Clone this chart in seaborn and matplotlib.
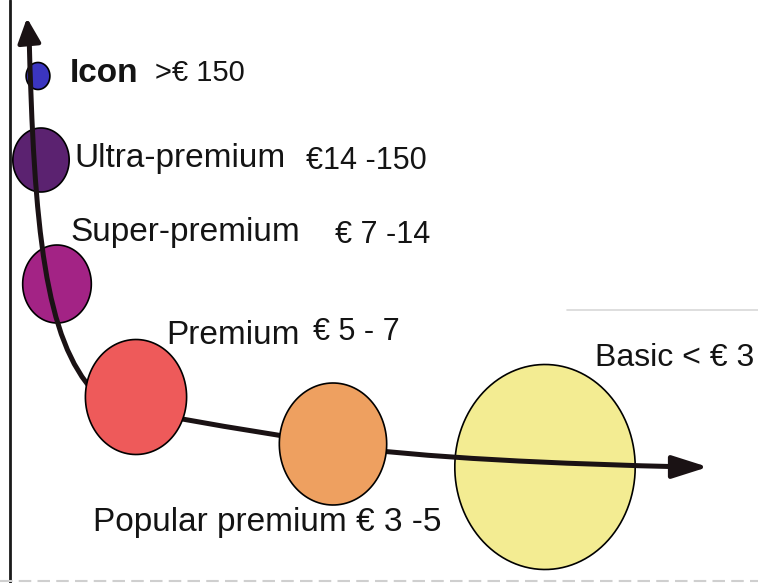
import matplotlib
matplotlib.use("Agg")
import matplotlib.pyplot as plt
from matplotlib.path import Path
from matplotlib.patches import PathPatch
import numpy as np
import pandas as pd
import seaborn as sns

# wine price segments (pixel coordinates of the scanned diagram)
tiers = ["Icon", "Ultra-premium", "Super-premium", "Premium", "Popular premium", "Basic"]
prices = [">€ 150", "€14 -150", "€ 7 -14", "€ 5 - 7", "€ 3 -5", "< € 3"]
pos_x = [38, 41, 57, 136, 333, 545]
pos_y = [76, 160, 284, 397, 444, 467]
bubble_px = [27, 64, 78, 115, 122, 205]   # bubble height in px
over_line = [False, False, False, True, True, False]
colors = ["#3b35c0", "#5b2270", "#a32385", "#ee5a5a", "#eea060", "#f3ec92"]

# the curved trend arrow (bezier control points)
curve_x = [29, 34, 45, 95, 140, 230, 333, 420, 560, 690]
curve_y = [32, 230, 340, 393, 418, 425, 445, 458, 464, 467]

df = pd.DataFrame({"tier": tiers, "x": pos_x, "y": pos_y,
                   "h": bubble_px, "front": over_line})
px2pt = 72 / 100
sizes = {t: (h * px2pt) ** 2 for t, h in zip(tiers, bubble_px)}
palette = dict(zip(tiers, colors))

# slightly tall ellipse marker, like in the scan
th = np.linspace(0, 2 * np.pi, 120)
ell = Path(np.column_stack([0.88 * np.cos(th), np.sin(th)]), closed=True)

sns.set_theme(style="white")
plt.rcParams["font.family"] = ["Liberation Sans", "DejaVu Sans"]

fig = plt.figure(figsize=(7.58, 5.83), dpi=100)
ax = fig.add_axes([0, 0, 1, 1])

# bubbles behind the line
sns.scatterplot(data=df[~df["front"]], x="x", y="y", hue="tier", size="tier",
                sizes=sizes, palette=palette, marker=ell, edgecolor="black",
                linewidth=1.2, legend=False, ax=ax, zorder=2)

line_col = "#1a1214"
codes = [Path.MOVETO] + [Path.CURVE4] * (len(curve_x) - 1)
trend = Path(np.column_stack([curve_x, curve_y]), codes)
ax.add_patch(PathPatch(trend, fill=False, edgecolor=line_col, lw=3.6,
                       capstyle="butt", zorder=3))
ax.annotate("", xy=(27, 18), xytext=(29, 40),
            arrowprops=dict(arrowstyle="-|>,head_length=15,head_width=7",
                            mutation_scale=1, color=line_col, lw=3.2,
                            shrinkA=0, shrinkB=0), zorder=3)
ax.annotate("", xy=(708, 467), xytext=(680, 467),
            arrowprops=dict(arrowstyle="-|>,head_length=22,head_width=7",
                            mutation_scale=1, color=line_col, lw=3.2,
                            shrinkA=0, shrinkB=0), zorder=3)

# bubbles in front of the line
sns.scatterplot(data=df[df["front"]], x="x", y="y", hue="tier", size="tier",
                sizes=sizes, palette=palette, marker=ell, edgecolor="black",
                linewidth=1.2, legend=False, ax=ax, zorder=4)

txt = dict(color="#141414", va="center", ha="left", zorder=5)
ax.text(70, 73, tiers[0], fontsize=24, fontweight="bold", **txt)
ax.text(155, 73, prices[0], fontsize=21, **txt)
ax.text(74, 158, tiers[1], fontsize=24, **txt)
ax.text(306, 161, prices[1], fontsize=22, **txt)
ax.text(70, 232, tiers[2], fontsize=24, **txt)
ax.text(335, 235, prices[2], fontsize=22, **txt)
ax.text(166, 335, tiers[3], fontsize=24, **txt)
ax.text(313, 332, prices[3], fontsize=22, **txt)
ax.text(93, 523, f"{tiers[4]} {prices[4]}", fontsize=24, **txt)
ax.text(595, 358, f"{tiers[5]} {prices[5]}", fontsize=23, **txt)

# scan frame
ax.axvline(10, color="#1a1a1a", lw=2)
ax.axhline(581, color="#cfcfcf", lw=1.5, ls=(0, (6, 3)))
ax.plot([567, 758], [310, 310], color="#d8d8d8", lw=1.2)

ax.set_xlim(0, 758)
ax.set_ylim(583, 0)
ax.axis("off")

fig.savefig("out.png", dpi=100, facecolor="white")
